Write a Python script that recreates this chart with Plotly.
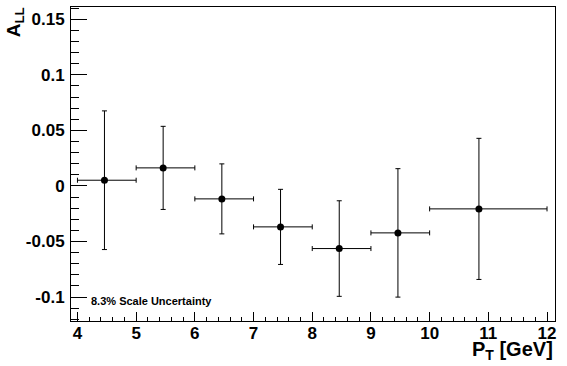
import plotly.graph_objects as go

# Data
pt = [4.46, 5.46, 6.46, 7.46, 8.46, 9.46, 10.84]
all_vals = [0.0051, 0.0162, -0.0117, -0.0369, -0.0564, -0.0423, -0.0207]
all_err = [0.0624, 0.0374, 0.0315, 0.0338, 0.0430, 0.0578, 0.0635]
bin_lo = [4, 5, 6, 7, 8, 9, 10]
bin_hi = [5, 6, 7, 8, 9, 10, 12]

y_tickvals = [-0.1, -0.05, 0, 0.05, 0.1, 0.15]
y_ticktext = ["-0.1", "-0.05", "0", "0.05", "0.1", "0.15"]
x_tickvals = [4, 5, 6, 7, 8, 9, 10, 11, 12]
x_ticktext = ["4", "5", "6", "7", "8", "9", "10", "11", "12"]

err_plus_x = [h - p for h, p in zip(bin_hi, pt)]
err_minus_x = [p - l for l, p in zip(bin_lo, pt)]

font_family = "Liberation Sans, Arial, sans-serif"

fig = go.Figure()
fig.add_trace(go.Scatter(
    x=pt, y=all_vals, mode="markers",
    marker=dict(color="black", size=7, symbol="circle"),
    error_y=dict(type="data", array=all_err, symmetric=True,
                 color="black", thickness=1, width=2.5),
    error_x=dict(type="data", array=err_plus_x, arrayminus=err_minus_x,
                 symmetric=False, color="black", thickness=1, width=2.5),
    showlegend=False,
))

fig.update_layout(
    width=567, height=366,
    margin=dict(l=71, r=12, t=7, b=45, autoexpand=False),
    paper_bgcolor="white", plot_bgcolor="white",
    font=dict(family=font_family, color="black"),
    xaxis=dict(
        range=[3.89, 12.136], automargin=False,
        showline=True, mirror=True, linecolor="black", linewidth=1,
        showgrid=False, zeroline=False,
        tickvals=x_tickvals, ticktext=x_ticktext,
        ticks="inside", ticklen=9, tickcolor="black", tickwidth=1,
        minor=dict(ticks="inside", dtick=0.2, ticklen=4, tickcolor="black", tickwidth=1, showgrid=False),
        tickfont=dict(size=17, family=font_family, weight="bold"),
        ticklabelstandoff=-3,
    ),
    yaxis=dict(
        range=[-0.1216, 0.161], automargin=False,
        showline=True, mirror=True, linecolor="black", linewidth=1,
        showgrid=False, zeroline=False,
        tickvals=y_tickvals, ticktext=y_ticktext,
        ticks="inside", ticklen=16, tickcolor="black", tickwidth=1,
        minor=dict(ticks="inside", dtick=0.01, ticklen=8, tickcolor="black", tickwidth=1, showgrid=False),
        tickfont=dict(size=17, family=font_family, weight="bold"),
        ticklabelstandoff=2,
    ),
    annotations=[
        dict(text="A<sub>LL</sub>", xref="paper", yref="paper",
             x=-0.114, y=1.005, xanchor="center", yanchor="top",
             textangle=-90, showarrow=False,
             font=dict(size=19, family=font_family, weight="bold")),
        dict(text="P<sub>T</sub> [GeV]", xref="paper", yref="paper",
             x=1.0, y=-0.048, xanchor="right", yanchor="top",
             showarrow=False,
             font=dict(size=20, family=font_family, weight="bold")),
        dict(text="8.3% Scale Uncertainty", xref="x", yref="y",
             x=4.2, y=-0.1033, xanchor="left", yanchor="middle",
             showarrow=False,
             font=dict(size=11, family=font_family, weight="bold")),
    ],
)

fig.write_html(
    "out.html",
    config={"displayModeBar": False},
    post_script="document.body.style.margin='0';document.body.style.padding='0';document.body.style.overflow='hidden';",
)
